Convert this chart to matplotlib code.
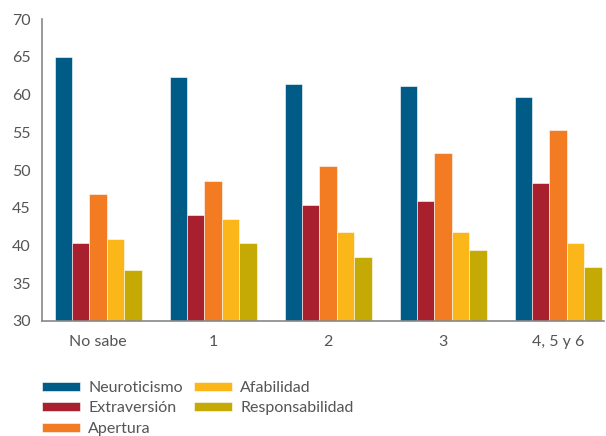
import matplotlib.pyplot as plt
import numpy as np
from matplotlib.patches import Patch

# Datos
categorias = ['No sabe', '1', '2', '3', '4, 5 y 6']
neuroticismo = [65.0, 62.3, 61.4, 61.2, 59.7]
extraversion = [40.3, 44.1, 45.3, 45.9, 48.3]
apertura = [46.8, 48.5, 50.6, 52.3, 55.3]
afabilidad = [40.8, 43.5, 41.8, 41.8, 40.3]
responsabilidad = [36.7, 40.3, 38.5, 39.4, 37.1]

series = [neuroticismo, extraversion, apertura, afabilidad, responsabilidad]
nombres = ['Neuroticismo', 'Extraversión', 'Apertura', 'Afabilidad', 'Responsabilidad']
colores = ['#005b86', '#a81f2d', '#f37c22', '#fbb61a', '#c5aa05']

plt.rcParams['font.family'] = ['Lato', 'DejaVu Sans']

fig = plt.figure(figsize=(6.06, 4.36), dpi=100)
ax = fig.add_axes([0.069, 0.264, 0.928, 0.692])

x = np.arange(len(categorias))
w = 0.151
for i, (vals, col) in enumerate(zip(series, colores)):
    ax.bar(x + (i - 2) * w, np.array(vals) - 30, width=w, bottom=30,
           color=col, edgecolor='white', linewidth=0.4)

ax.set_ylim(30, 70)
ax.set_xlim(-0.49, 4.40)
ax.set_yticks(range(30, 71, 5))
ax.set_xticks(x)
ax.set_xticklabels(categorias)
ax.tick_params(length=0, labelsize=11.5, colors='#555555')
ax.tick_params(axis='x', pad=10)
ax.tick_params(axis='y', pad=8)
for s in ['top', 'right']:
    ax.spines[s].set_visible(False)
for s in ['left', 'bottom']:
    ax.spines[s].set_color('#888888')
    ax.spines[s].set_linewidth(1.2)

handles = [Patch(facecolor=c, edgecolor='white', linewidth=0.4) for c in colores]
fig.legend(handles, nombres, ncol=2, loc='upper left', bbox_to_anchor=(0.069, 0.126),
           frameon=False, fontsize=11.5, labelcolor='#555555',
           handlelength=2.4, handleheight=0.5, handletextpad=0.5,
           columnspacing=0.7, labelspacing=0.4, borderaxespad=0, borderpad=0)

fig.savefig('out.png', dpi=100)
